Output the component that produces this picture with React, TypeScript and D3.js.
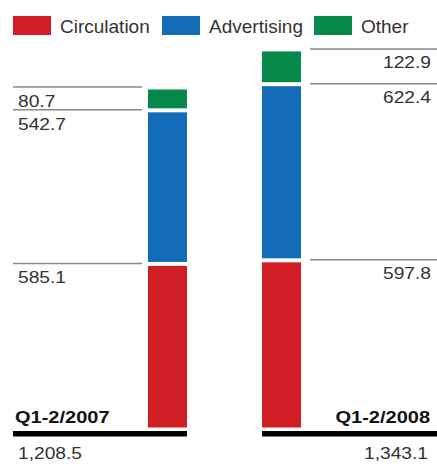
import React from "react";
import * as d3 from "d3";

const periods = ["Q1-2/2007", "Q1-2/2008"];
const seriesNames = ["Circulation", "Advertising", "Other"];
const circulation = [585.1, 597.8];
const advertising = [542.7, 622.4];
const other = [80.7, 122.9];
const totals = ["1,208.5", "1,343.1"];
const colors = ["#d21f26", "#136cb8", "#07894a"];

const W = 437;
const H = 464;
const FONT = "'Liberation Sans', Arial, Helvetica, sans-serif";

export default function App() {
  const x = d3.scaleBand<string>().domain(periods).range([148, 301]).paddingInner(0.658);
  const y = d3.scaleLinear().domain([0, 1400]).range([429.5, 429.5 - 1400 * 0.283]);

  const table = periods.map((p, i) => ({
    period: p,
    Circulation: circulation[i],
    Advertising: advertising[i],
    Other: other[i],
  }));
  const stacked = d3.stack<any>().keys(seriesNames)(table);
  const gap = 2;

  const legendX = [13, 162, 314];

  return (
    <svg width={W} height={H} style={{ position: "absolute", left: 0, top: 0, background: "#fff" }} fontFamily={FONT}>
      {/* legend */}
      {seriesNames.map((s, i) => (
        <g key={s}>
          <rect x={legendX[i]} y={16} width={38} height={19} fill={colors[i]} />
          <text x={legendX[i] + 47} y={33} fontSize={19} fill="#333">{s}</text>
        </g>
      ))}

      {/* bars */}
      {stacked.map((layer, si) =>
        layer.map((d, pi) => {
          const top = y(d[1]) + gap;
          const bottom = y(d[0]) - gap;
          return (
            <rect
              key={`${si}-${pi}`}
              x={x(periods[pi])}
              y={top}
              width={x.bandwidth()}
              height={bottom - top}
              fill={colors[si]}
            />
          );
        })
      )}

      {/* value labels with lines */}
      {stacked.map((layer, si) =>
        layer.map((d, pi) => {
          const ly = y(d[1]) - 0.5;
          const val = (d.data as any)[seriesNames[si]].toFixed(1);
          const left = pi === 0;
          const x1 = left ? 13 : 310;
          const x2 = left ? 142 : 437;
          const tx = left ? 18 : 431;
          const ty = ly + (left ? 20 : 19);
          return (
            <g key={`l-${si}-${pi}`}>
              <line x1={x1} x2={x2} y1={ly} y2={ly} stroke="#8a8a8a" strokeWidth={1.5} />
              <text
                transform={`translate(${tx},${ty}) scale(1.2,1)`}
                textAnchor={left ? "start" : "end"}
                fontSize={16}
                fill="#333"
              >
                {val}
              </text>
            </g>
          );
        })
      )}

      {/* baselines, period labels, totals */}
      {periods.map((p, pi) => {
        const left = pi === 0;
        const bx = x(p)!;
        const x1 = left ? 13 : bx;
        const x2 = left ? bx + x.bandwidth() : 437;
        return (
          <g key={`b-${p}`}>
            <rect x={x1} y={431} width={x2 - x1} height={5.5} fill="#000" />
            <text
              transform={`translate(${left ? 15 : 430},423) scale(1.25,1)`}
              textAnchor={left ? "start" : "end"}
              fontSize={16}
              fontWeight="bold"
              fill="#111"
            >
              {p}
            </text>
            <text
              transform={`translate(${left ? 18 : 428},459) scale(1.2,1)`}
              textAnchor={left ? "start" : "end"}
              fontSize={16}
              fill="#333"
            >
              {totals[pi]}
            </text>
          </g>
        );
      })}
    </svg>
  );
}
